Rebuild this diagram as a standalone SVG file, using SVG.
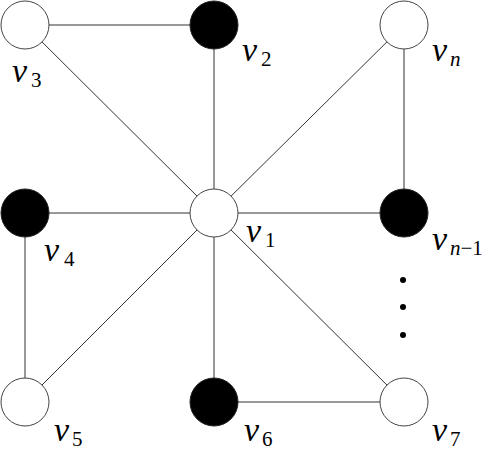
<svg xmlns="http://www.w3.org/2000/svg" width="497" height="450" viewBox="0 0 497 450">
<style>
.e{stroke:#333;stroke-width:1;fill:none}
.w{fill:#fff;stroke:#444;stroke-width:1}
.b{fill:#000;stroke:#222;stroke-width:1}
.l{font-style:italic;font-size:34px}
.s{font-size:21px}
.si{font-style:italic;font-size:21px}
</style>
<rect width="497" height="450" fill="#fff"/>
<g id="connectors">
<line class="e" x1="25" y1="25" x2="214" y2="25"/>
<line class="e" x1="25" y1="25" x2="214" y2="213"/>
<line class="e" x1="214" y1="25" x2="214" y2="213"/>
<line class="e" x1="404" y1="25" x2="214" y2="213"/>
<line class="e" x1="404" y1="25" x2="404" y2="213"/>
<line class="e" x1="25" y1="213" x2="214" y2="213"/>
<line class="e" x1="214" y1="213" x2="404" y2="213"/>
<line class="e" x1="25" y1="213" x2="25" y2="402"/>
<line class="e" x1="25" y1="402" x2="214" y2="213"/>
<line class="e" x1="214" y1="213" x2="214" y2="402"/>
<line class="e" x1="214" y1="213" x2="404" y2="402"/>
<line class="e" x1="214" y1="402" x2="404" y2="402"/>
</g>
<g font-family="Liberation Serif, DejaVu Serif, serif" fill="#000">
<g id="v3"><circle class="w" cx="25" cy="25" r="24"/><text class="l" x="12" y="82">v</text><text class="s" x="31" y="87">3</text></g>
<g id="v2"><circle class="b" cx="214" cy="25" r="24"/><text class="l" x="242" y="61">v</text><text class="s" x="261" y="66">2</text></g>
<g id="vn"><circle class="w" cx="404" cy="25" r="24"/><text class="l" x="432" y="61">v</text><text class="si" x="450" y="66">n</text></g>
<g id="v4"><circle class="b" cx="25" cy="213" r="24"/><text class="l" x="44" y="261">v</text><text class="s" x="64" y="266">4</text></g>
<g id="v1"><circle class="w" cx="214" cy="213" r="24"/><text class="l" x="246" y="242">v</text><text class="s" x="265" y="247">1</text></g>
<g id="vn-1"><circle class="b" cx="404" cy="213" r="24"/><text class="l" x="432" y="250">v</text><text x="450" y="255"><tspan class="si">n</tspan><tspan class="s">−1</tspan></text></g>
<g id="dots"><circle cx="403" cy="280" r="3" fill="#000"/><circle cx="403" cy="307" r="3" fill="#000"/><circle cx="403" cy="335" r="3" fill="#000"/></g>
<g id="v5"><circle class="w" cx="25" cy="402" r="24"/><text class="l" x="54" y="441">v</text><text class="s" x="72" y="446">5</text></g>
<g id="v6"><circle class="b" cx="214" cy="402" r="24"/><text class="l" x="244" y="441">v</text><text class="s" x="262" y="446">6</text></g>
<g id="v7"><circle class="w" cx="404" cy="402" r="24"/><text class="l" x="432" y="441">v</text><text class="s" x="450" y="446">7</text></g>
</g>
</svg>
